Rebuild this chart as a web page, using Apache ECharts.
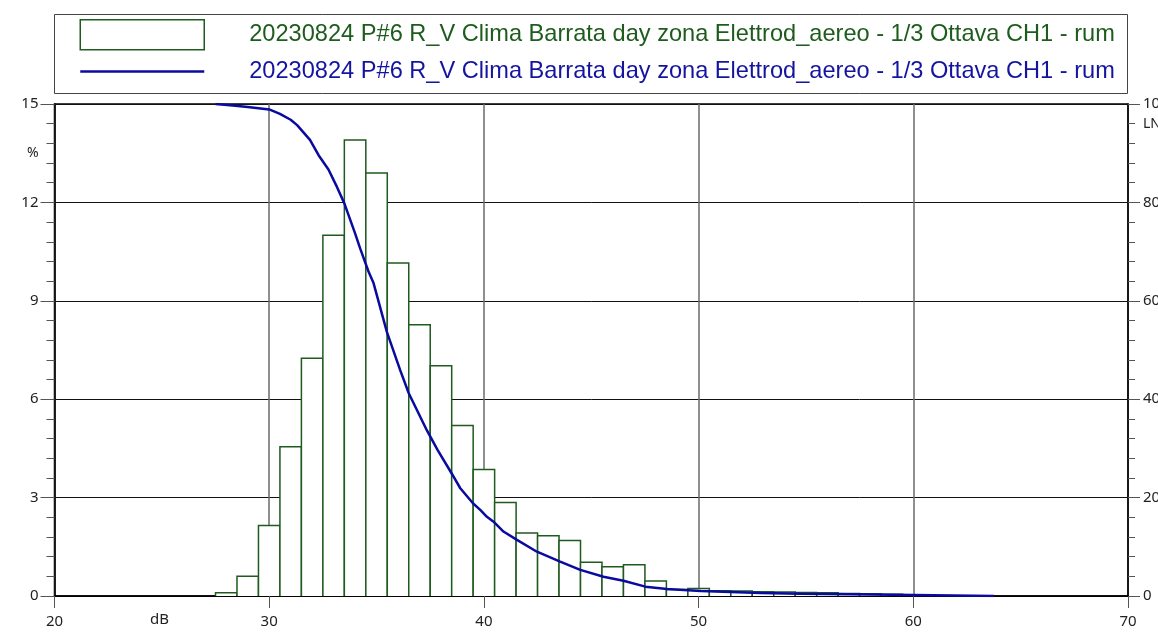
<!DOCTYPE html>
<html>
<head>
<meta charset="utf-8">
<script src="https://cdn.jsdelivr.net/npm/echarts@6/dist/echarts.min.js"></script>
<style>html,body{margin:0;padding:0;background:#fff;}#c{width:1158px;height:634px;}</style>
</head>
<body>
<div id="c"></div>
<script>
const seriesLabel = '20230824 P#6 R_V Clima Barrata day zona Elettrod_aereo - 1/3 Ottava CH1 - rum';
const xTickLabels = ['20','30','40','50','60','70'];
// histogram: class centre (dB) and percentage
const histLevels = [28,29,30,31,32,33,34,35,36,37,38,39,40,41,42,43,44,45,46,47,48,49,50,51,52,53,54,55,56,57,58,59,60];
const histValues = [0.1,0.6,2.15,4.55,7.25,11.0,13.9,12.9,10.15,8.27,7.02,5.2,3.86,2.85,1.92,1.84,1.69,1.03,0.89,0.95,0.46,0.2,0.23,0.16,0.15,0.13,0.12,0.11,0.1,0.08,0.07,0.05,0.03];
// cumulative LN curve
const lnLevels = [27.5,28.3,29.0,30.0,30.5,31.0,31.3,31.9,32.3,32.76,33.15,33.5,34.0,34.24,34.62,34.86,35.48,36.1,36.5,37.34,37.84,38.5,38.9,39.5,39.83,40.14,40.45,40.91,41.54,42.47,43.55,44.49,45.57,46.5,47.52,48.53,50.1,52.9,54.75,57.0,60.0,63.75];
const lnValues = [100,99.7,99.4,98.9,98.0,96.8,95.7,92.7,89.6,86.7,83.2,79.8,73.7,70.6,66.0,63.6,53.7,45.9,41.2,33.7,29.7,24.9,21.9,18.8,17.5,16.1,15.1,13.1,11.4,9.0,7.0,5.3,3.9,3.1,1.9,1.4,1.0,0.6,0.45,0.35,0.2,0];

const GREEN = '#1f5a1f';
const BLUE = '#0a0aa0';
const TXT = '#222';
const FONT = 'Noto Sans';

const chart = echarts.init(document.getElementById('c'), null, {renderer:'canvas'});
chart.setOption({
  animation: false,
  backgroundColor: '#fff',
  grid: {left: 54.5, right: 30, top: 104, bottom: 38, outerBoundsMode: 'none', containLabel: false,
         show: true, borderColor: '#000', borderWidth: 1.5, backgroundColor: 'transparent'},
  graphic: [
    {type:'rect', shape:{x:54.5, y:14.5, width:1073, height:79}, style:{fill:'none', stroke:'#444', lineWidth:1}, z:-1},
    {type:'text', left: 27, top: 146, style:{text:'%', fontSize:14, fill:TXT, fontFamily:FONT}},
    {type:'text', left: 1143, top: 117, style:{text:'LN', fontSize:14, fill:TXT, fontFamily:FONT}},
    {type:'text', left: 150, top: 612, style:{text:'dB', fontSize:15, fill:TXT, fontFamily:FONT}}
  ],
  legend: {
    orient: 'vertical', left: 79, top: 19, itemWidth: 124, itemHeight: 30, itemGap: 9,
    padding: 0, selectedMode: false,
    textStyle: {fontSize: 23.6, fontFamily: 'Liberation Sans', padding: [0,0,0,40]},
    formatter: function(){ return seriesLabel; },
    data: [
      {name:'hist', icon:'rect', itemStyle:{color:'#fff', borderColor:GREEN, borderWidth:1.5}, textStyle:{color:'#1e5c1e'}},
      {name:'cum', itemStyle:{color:'rgba(0,0,0,0)', borderWidth:0, opacity:0}, lineStyle:{color:BLUE, width:2.5}, textStyle:{color:'#1414a0'}}
    ]
  },
  xAxis: {
    type: 'value', min: 20, max: 70, interval: 10,
    axisLine: {show:true, lineStyle:{color:'#000', width:1.5}},
    axisTick: {show:true, inside:false, length:12, lineStyle:{color:'#555'}},
    axisLabel: {fontSize:15, color:TXT, fontFamily:FONT, margin:18,
      formatter: function(v){ const i = Math.round((v-20)/10); return xTickLabels[i] !== undefined ? xTickLabels[i] : ''; }},
    splitLine: {show:true, lineStyle:{color:'#6a6a6a', width:1.5}}
  },
  yAxis: [
    {
      type: 'value', min: 0, max: 15, interval: 3, position: 'left',
      axisLine: {show:true, lineStyle:{color:'#000', width:1.5}},
      axisTick: {show:true, inside:false, length:14, lineStyle:{color:'#555'}},
      minorTick: {show:true, splitNumber:5, length:8, lineStyle:{color:'#555'}},
      axisLabel: {fontSize:15, color:TXT, fontFamily:FONT, margin:16},
      splitLine: {show:true, lineStyle:{color:'#111', width:1}}
    },
    {
      type: 'value', min: 0, max: 100, interval: 20, position: 'right',
      axisLine: {show:true, lineStyle:{color:'#000', width:1.5}},
      axisTick: {show:true, inside:false, length:12, lineStyle:{color:'#555'}},
      minorTick: {show:true, splitNumber:5, length:7, lineStyle:{color:'#555'}},
      axisLabel: {fontSize:15, color:TXT, fontFamily:FONT, margin:15},
      splitLine: {show:false}
    }
  ],
  series: [
    {
      name: 'hist', type: 'custom', yAxisIndex: 0,
      data: histLevels.map((l,i)=>[l, histValues[i]]),
      renderItem: function(params, api){
        const x = api.value(0), v = api.value(1);
        const p0 = api.coord([x-0.5, 0]);
        const p1 = api.coord([x+0.5, v]);
        return {type:'polyline', shape:{points:[[p0[0],p0[1]],[p0[0],p1[1]],[p1[0],p1[1]],[p1[0],p0[1]]]},
          style:{fill:'#fff', stroke:GREEN, lineWidth:1.5}};
      },
      itemStyle: {color:'#fff', borderColor:GREEN, borderWidth:1.5},
      z: 3
    },
    {
      name: 'cum', type: 'line', yAxisIndex: 1, symbol: 'none', smooth: false,
      data: lnLevels.map((l,i)=>[l, lnValues[i]]),
      lineStyle: {color:BLUE, width:2.5},
      itemStyle: {color:BLUE},
      z: 4
    }
  ]
});
</script>
</body>
</html>
